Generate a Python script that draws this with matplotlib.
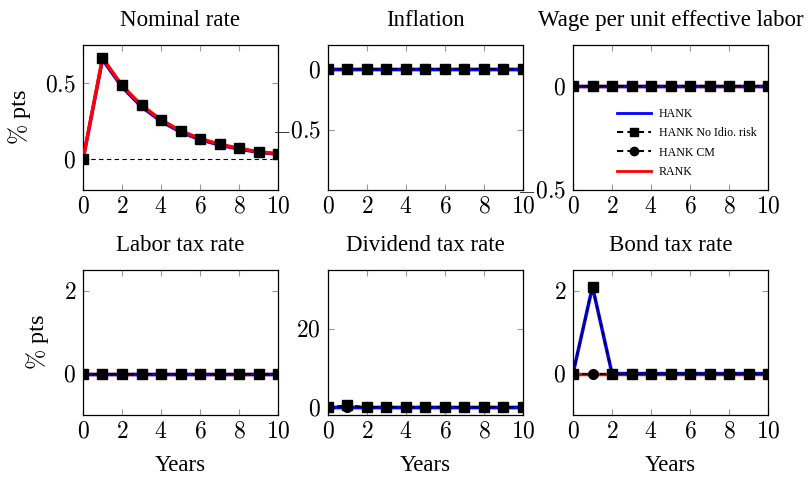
import numpy as np
import matplotlib
matplotlib.use("Agg")
import matplotlib.pyplot as plt
from matplotlib.lines import Line2D

plt.rcParams['font.family'] = ['Liberation Serif', 'DejaVu Serif']
plt.rcParams['mathtext.fontset'] = 'cm'

# data
years = np.arange(0, 11)
zeros = [0.0] * 11

nominal_hank = [0, 0.655, 0.475, 0.345, 0.25, 0.18, 0.13, 0.095, 0.068, 0.047, 0.035]
nominal_noidio = [0, 0.665, 0.485, 0.355, 0.26, 0.188, 0.137, 0.10, 0.073, 0.05, 0.038]
nominal_cm = [0, 0.665, 0.485, 0.355, 0.26, 0.188, 0.137, 0.10, 0.073, 0.05, 0.038]
nominal_rank = [0, 0.665, 0.485, 0.355, 0.26, 0.188, 0.137, 0.10, 0.073, 0.05, 0.038]

dividend_noidio = [0, 0.5, 0, 0, 0, 0, 0, 0, 0, 0, 0]

bond_hank = [0, 2.1, 0, 0, 0, 0, 0, 0, 0, 0, 0]
bond_noidio = [0, 2.1, 0, 0, 0, 0, 0, 0, 0, 0, 0]

titles = ["Nominal rate", "Inflation", "Wage per unit effective labor",
          "Labor tax rate", "Dividend tax rate", "Bond tax rate"]
series = [
    (nominal_hank, nominal_noidio, nominal_cm, nominal_rank),
    (zeros, zeros, zeros, zeros),
    (zeros, zeros, zeros, zeros),
    (zeros, zeros, zeros, zeros),
    (zeros, dividend_noidio, zeros, zeros),
    (bond_hank, bond_noidio, zeros, zeros),
]
ylims = [(-0.2, 0.75), (-1.0, 0.2), (-0.5, 0.2), (-1.0, 2.5), (-2.0, 35.0), (-1.0, 2.5)]
yticks = [[0, 0.5], [-0.5, 0], [-0.5, 0], [0, 2], [0, 20], [0, 2]]
xticks = [0, 2, 4, 6, 8, 10]
# the red line sits over the others only in the first panel
red_on_top = [True, False, False, False, False, False]

fig = plt.figure(figsize=(8.12, 4.78), dpi=100)
W, H = 812.0, 478.0
lefts = [83, 328, 573]
tops = [45, 270]
aw, ah = 195, 145

axes = []
for i in range(6):
    r, c = divmod(i, 3)
    ax = fig.add_axes([lefts[c] / W, (H - tops[r] - ah) / H, aw / W, ah / H])
    axes.append(ax)

    hank, noidio, cm, rank = series[i]
    zr = 4.5 if red_on_top[i] else 1.5
    ax.axhline(0, color='black', lw=0.8, ls=(0, (4, 3)), zorder=1)
    ax.plot(years, rank, color='red', lw=2.5, zorder=zr)
    ax.plot(years, hank, color='blue', lw=2.5, zorder=2)
    ax.plot(years, cm, color='black', lw=1.3, ls=(0, (3, 2)), zorder=3)
    ax.plot(years, noidio, color='black', lw=1.3, ls=(0, (3, 2)), zorder=4)
    ax.plot(years, cm, ls='none', color='black', marker='o', ms=7, zorder=5)
    ax.plot(years, noidio, ls='none', color='black', marker='s', ms=7.5, zorder=6)

    ax.set_xlim(0, 10)
    ax.set_ylim(*ylims[i])
    ax.set_xticks(xticks)
    ax.set_xticklabels([f"${t}$" for t in xticks])
    ax.set_yticks(yticks[i])
    ax.set_yticklabels([f"${t:g}$" for t in yticks[i]])
    ax.tick_params(direction='in', length=4, width=0.8, color='#999999',
                   top=True, right=True, labelsize=17, pad=5)
    for sp in ax.spines.values():
        sp.set_linewidth(0.9)
    ax.set_title(titles[i], fontsize=16.5, pad=13.5)
    if c == 0:
        ax.set_ylabel(r"$\%$ pts", fontsize=17.5, labelpad=9)
    if r == 1:
        ax.set_xlabel("Years", fontsize=16.5, labelpad=9)

handles = [
    Line2D([], [], color='blue', lw=2.0),
    Line2D([], [], color='black', lw=1.5, ls=(0, (3, 2)), marker='s', ms=6),
    Line2D([], [], color='black', lw=1.5, ls=(0, (3, 2)), marker='o', ms=6),
    Line2D([], [], color='red', lw=2.0),
]
labels = ["HANK", "HANK No Idio. risk", "HANK CM", "RANK"]
axes[2].legend(handles, labels, loc='upper left', bbox_to_anchor=(0.2, 0.6),
               frameon=False, fontsize=8.6, numpoints=1, handlelength=2.9,
               handletextpad=0.6, labelspacing=0.62, borderaxespad=0)

fig.savefig("out.png", dpi=100)
